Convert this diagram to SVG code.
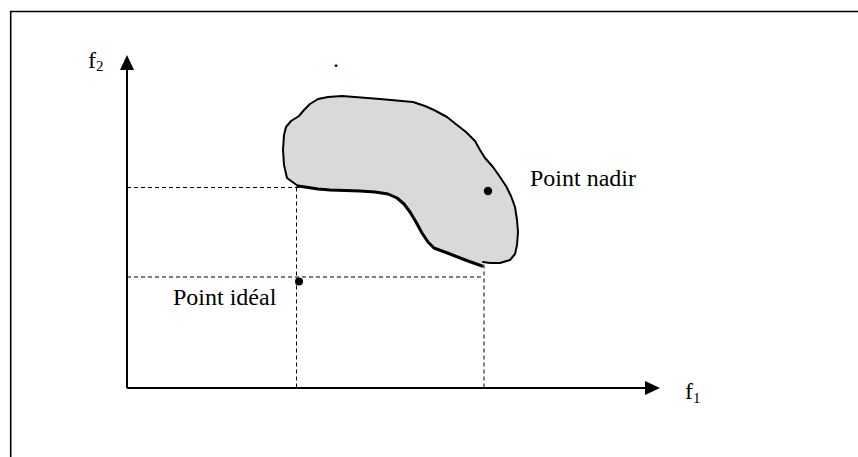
<svg xmlns="http://www.w3.org/2000/svg" width="858" height="457" viewBox="0 0 858 457">
<style>
.lbl{font-family:"Liberation Serif","Times New Roman",serif;font-size:24px;fill:#000}
.sub{font-size:15px}
.axis{stroke:#000;stroke-width:2;fill:none}
.dash{stroke:#000;stroke-width:1;fill:none;stroke-dasharray:4 3}
.dot{fill:#000}
</style>
<rect width="858" height="457" fill="#fff"/>
<path d="M10.7,457 V11.5 H858" fill="none" stroke="#000" stroke-width="1.6"/>
<g id="connectors">
<path class="dash" d="M127,187.5 H484 V388"/>
<path class="dash" d="M296.5,187.5 V388"/>
<path class="dash" d="M127,277 H484"/>
<path class="axis" d="M127,388 V68"/>
<polygon points="127,55 120,70 134,70" fill="#000"/>
<path class="axis" d="M127,388 H647"/>
<polygon points="660,388 645,381 645,395" fill="#000"/>
</g>
<g id="region">
<path d="M298,186 L287,178 L284,165 L283,150 L284,135 L286,127 L291,121 L299,116 L304,110 L310,104 L318,99 L328,97 L342,96 L380,99 L413,102 L425,106 L434,110 L447,117 L457,125 L466,132 L475,141 L480,150 L485,158 L493,167 L500,177 L506,186 L511,196 L515,207 L517,220 L518,232 L517,245 L515,254 L510,260 L500,263 L490,263 L483,262 L482,266 L468,261 L450,254 L434,248 L428,242 L422,233 L416,222 L410,212 L404,204 L397,198 L388,194 L375,192 L360,191 L330,190 L318,189 L305,187 Z" fill="#d9d9d9" stroke="none"/>
<path d="M298,186 L287,178 L284,165 L283,150 L284,135 L286,127 L291,121 L299,116 L304,110 L310,104 L318,99 L328,97 L342,96 L380,99 L413,102 L425,106 L434,110 L447,117 L457,125 L466,132 L475,141 L480,150 L485,158 L493,167 L500,177 L506,186 L511,196 L515,207 L517,220 L518,232 L517,245 L515,254 L510,260 L500,263 L490,263 L483,262" fill="none" stroke="#000" stroke-width="2" stroke-linejoin="round" stroke-linecap="round"/>
<path d="M482,266 L468,261 L450,254 L434,248 L428,242 L422,233 L416,222 L410,212 L404,204 L397,198 L388,194 L375,192 L360,191 L330,190 L318,189 L305,187 L298,186" fill="none" stroke="#000" stroke-width="3" stroke-linejoin="round" stroke-linecap="round"/>
</g>
<g id="nadir">
<circle class="dot" cx="488" cy="191" r="4.2"/>
<text class="lbl" x="530" y="186">Point nadir</text>
</g>
<g id="ideal">
<circle class="dot" cx="299" cy="281.5" r="4"/>
<text class="lbl" x="173" y="305">Point idéal</text>
</g>
<g id="axis-f2">
<text class="lbl" x="88" y="68">f<tspan class="sub" dy="3">2</tspan></text>
</g>
<g id="axis-f1">
<text class="lbl" x="685" y="399">f<tspan class="sub" dy="4">1</tspan></text>
</g>
<text class="lbl" x="333" y="67">.</text>
</svg>
